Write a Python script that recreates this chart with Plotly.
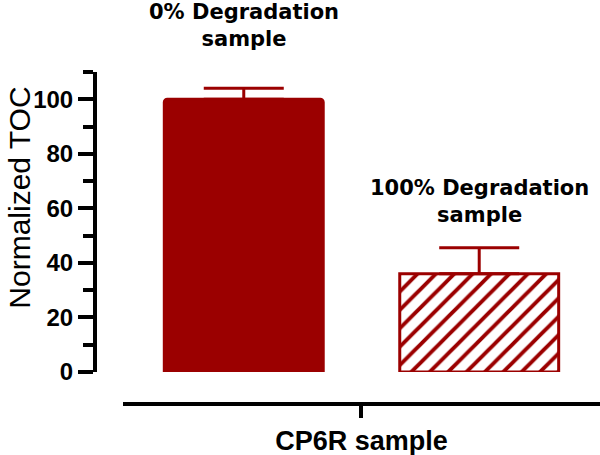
import plotly.graph_objects as go

# chart data
samples = ["0% Degradation<br>sample", "100% Degradation<br>sample"]
positions = [0, 1]
toc_values = [100, 36]
toc_errors = [4, 9.6]
category_label = ["CP6R sample"]
y_ticks = [0, 20, 40, 60, 80, 100]

RED = "#9b0000"
FONT = "Liberation Sans, Arial, sans-serif"

fig = go.Figure()

# solid bar (0% degradation)
fig.add_trace(go.Bar(
    x=positions[:1], y=toc_values[:1], width=0.675,
    marker=dict(color=RED, line=dict(color=RED, width=3), cornerradius=3),
    error_y=dict(type="data", symmetric=False, array=toc_errors[:1],
                 arrayminus=[0], color=RED, thickness=3, width=40),
    showlegend=False,
))

# hatched bar (100% degradation)
fig.add_trace(go.Bar(
    x=positions[1:], y=toc_values[1:], width=0.675,
    marker=dict(
        color="white", line=dict(color=RED, width=3),
        pattern=dict(shape="/", fillmode="replace", fgcolor=RED,
                     bgcolor="white", fgopacity=1, size=13, solidity=0.3),
    ),
    error_y=dict(type="data", symmetric=False, array=toc_errors[1:],
                 arrayminus=[0], color=RED, thickness=3, width=40),
    showlegend=False,
))

# text labels above each bar (paper coords, the first one sits above the axes)
label_y = [1.139, 0.611]
for xpos, text, ly in zip(positions, samples, label_y):
    fig.add_annotation(
        x=xpos, y=ly, xref="x", yref="paper", text=text, showarrow=False,
        xanchor="center", yanchor="middle", align="center",
        font=dict(family="DejaVu Sans", size=21, color="black", weight="bold"),
    )

# y axis title placed by hand, it sits a bit above the axis centre
fig.add_annotation(
    x=-0.150, y=64, xref="paper", yref="y", text="Normalized TOC",
    textangle=-90, showarrow=False, xanchor="center", yanchor="middle",
    font=dict(family=FONT, size=30, color="black"),
)

fig.update_layout(
    width=600, height=455,
    margin=dict(l=95, r=0, t=72, b=51),
    plot_bgcolor="white", paper_bgcolor="white",
    barmode="overlay",
    xaxis=dict(
        domain=[0.0554, 1], range=[-0.513, 1.513],
        anchor="free", position=0,
        showline=True, linecolor="black", linewidth=4,
        tickvals=[0.5], ticktext=category_label,
        ticks="outside", ticklen=12, tickwidth=4, tickcolor="black",
        tickfont=dict(family=FONT, size=27, color="black", weight="bold"),
        showgrid=False, zeroline=False,
    ),
    yaxis=dict(
        domain=[0.0964, 1], range=[0, 110],
        anchor="free", position=0,
        showline=True, linecolor="black", linewidth=4,
        tickvals=y_ticks,
        ticks="outside", ticklen=15, tickwidth=4, tickcolor="black",
        tickfont=dict(family=FONT, size=24, color="black", weight="bold"),
        minor=dict(dtick=10, ticks="outside", ticklen=10, tickwidth=4,
                   tickcolor="black", showgrid=False),
        showgrid=False, zeroline=False,
    ),
)

# drop the browser's default body margin so the figure starts at the corner
fig.write_html("out.html", config={"displayModeBar": False},
               post_script="document.body.style.margin='0';")
